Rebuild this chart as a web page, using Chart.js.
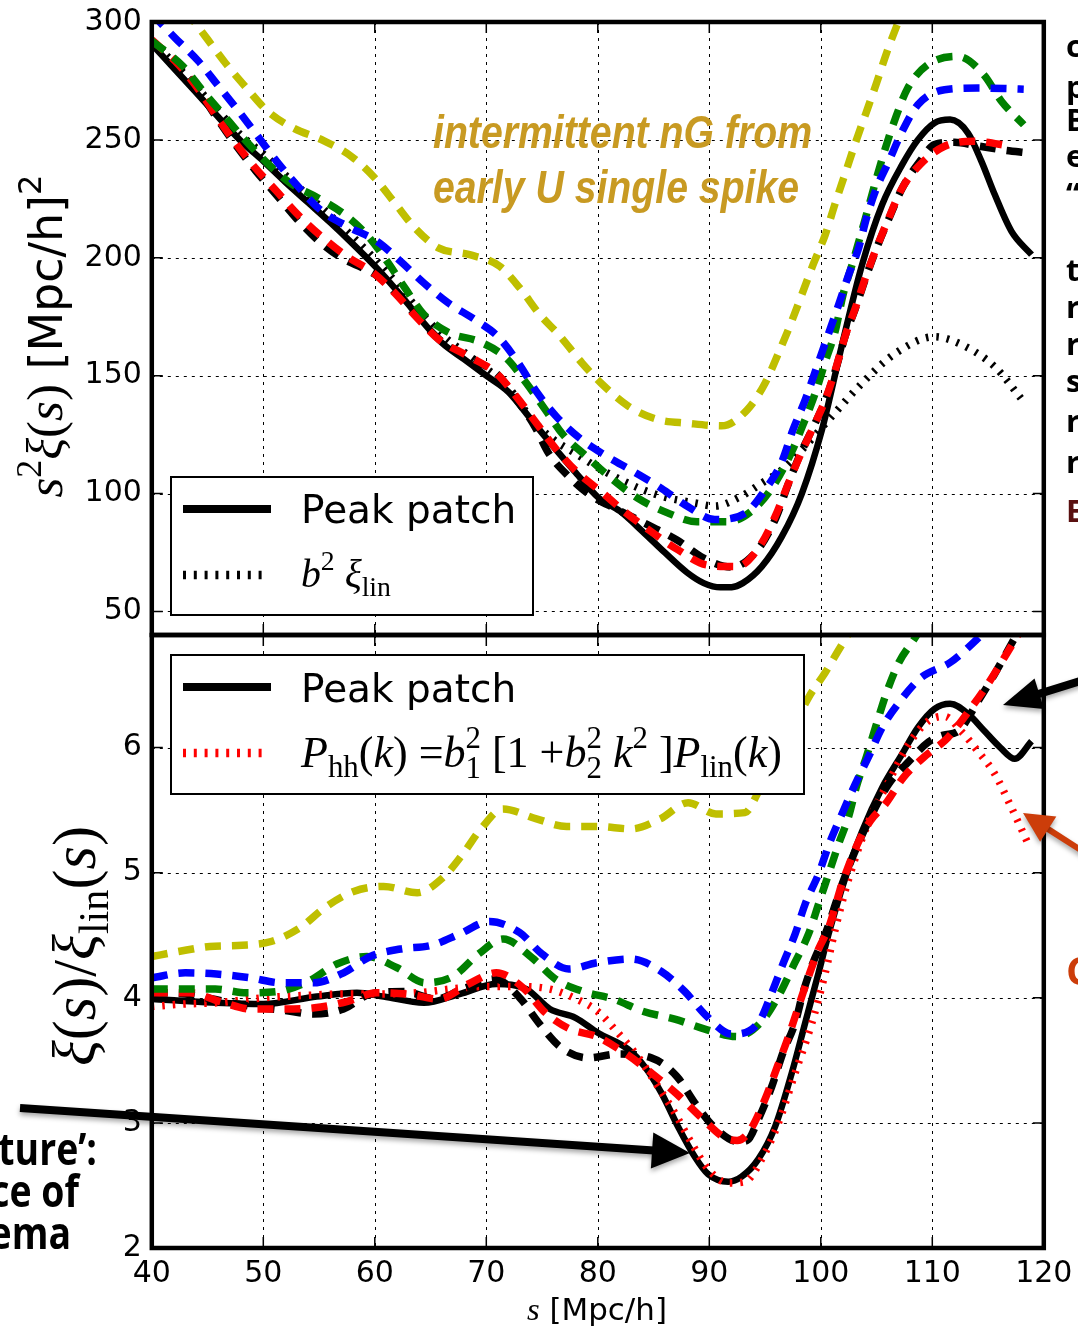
<!DOCTYPE html>
<html>
<head>
<meta charset="utf-8">
<script src="https://cdn.jsdelivr.net/npm/chart.js@4.4.1/dist/chart.umd.min.js"></script>
<style>
  html, body { margin: 0; padding: 0; background: #fff; }
  #wrap { position: relative; width: 1078px; height: 1328px; overflow: hidden; }
  canvas { position: absolute; left: 0; }
  #top { top: 0; }
  #bot { top: 620px; }
</style>
</head>
<body>
<div id="wrap">
  <canvas id="top" width="1078" height="660"></canvas>
  <canvas id="bot" width="1078" height="708"></canvas>
</div>
<script>
// ---------- top panel: s^2 xi(s) [Mpc/h]^2 ----------
const topPeakS = [40, 42, 44, 46, 48, 50, 52, 54, 56, 58, 60, 62, 64, 66, 68, 70, 72, 74, 76, 78, 80, 82, 84, 86, 88, 89.5, 91, 92, 93, 94.7, 96.5, 98.3, 100.1, 101.9, 103.7, 105.5, 107.3, 108.7, 110.2, 111.6, 113.2, 114.4, 115.6, 117.1, 118.9];
const topPeakV = [290.5, 280.3, 270, 259.5, 249.5, 241, 232, 223.5, 215, 206, 196.5, 186, 174.5, 164, 157, 150, 143, 131.5, 120, 109, 98.5, 92.5, 84, 75, 66.5, 62, 60.2, 60.3, 62, 69, 81.7, 100, 127, 163, 197, 222.5, 239.5, 250, 257.2, 258.6, 252.9, 241, 226.8, 211.2, 201.3];

const topLinS = [40, 42, 44, 46, 48, 50, 52, 54, 56, 58, 60, 62, 64, 66, 68, 70, 72, 74, 76, 78, 80, 82, 84, 86, 88.7, 90.5, 92.8, 94.7, 96.5, 98.3, 100.7, 103.7, 106.7, 110.2, 112.7, 115.6, 118.3];
const topLinV = [292, 282.5, 272.5, 262, 252, 244, 235, 226.5, 218, 209, 199.5, 189, 177.5, 167.5, 160, 153, 145, 132, 123, 117, 111, 106, 101.7, 98.5, 96, 94.7, 98.7, 104.4, 110, 118.5, 131.2, 146.8, 159.5, 166.5, 163, 153.8, 138.3];

const topBlackS = [40, 42.4, 44.2, 45.8, 47.5, 49.3, 51.2, 53, 55, 57, 59, 60, 62, 64, 66, 68.5, 71, 72.7, 74.4, 75.6, 77.4, 79.3, 81.8, 84.5, 87.1, 89.5, 92, 94.4, 96, 97, 98, 99.2, 100.4, 101.3, 102.2, 103.1, 104.1, 105, 106.1, 107.3, 108.9, 110.2, 112, 114, 116.2, 118.7];
const topBlackV = [292, 281.5, 271, 259.5, 248, 237, 226.5, 216.5, 207, 200, 195.5, 193, 184.5, 174, 164.5, 157.5, 150.5, 140, 128, 117, 107.2, 99.4, 93.1, 86.7, 80.3, 72.6, 68.8, 76.5, 90, 103, 115, 127, 139.5, 152, 167, 178.5, 192.5, 204, 216.5, 229.5, 241, 248, 249, 247.5, 245.8, 244.4];

const topRedS = [40, 42.4, 44.2, 45.8, 47.5, 49.3, 51.2, 53.1, 55.2, 57.5, 59.9, 61.8, 63.8, 65.8, 68.5, 70.9, 72.7, 74.4, 76.2, 78.1, 80.3, 82.4, 84.8, 87.2, 89.8, 92.5, 94.4, 95.9, 97.1, 98.1, 99.2, 100.4, 101.3, 102.2, 103.1, 104.1, 105, 106.1, 107.3, 108.9, 111.1, 113.8, 117.1];
const topRedV = [292.5, 281.9, 271.3, 260, 248.7, 238, 228.2, 218.3, 209.1, 200.6, 193.5, 185, 174.5, 165.1, 158, 151, 141.1, 130.5, 119.2, 109.3, 100.8, 92.3, 83.8, 76.1, 69.7, 69, 76.8, 90.2, 104.4, 115.7, 127, 139.7, 152.4, 167, 178.7, 192.8, 204.2, 216.9, 229.6, 239.5, 247.3, 249.4, 247.3];

const topGreenS = [40, 42.8, 44.6, 46.4, 48.2, 50.2, 52.4, 54.9, 57.3, 59.4, 61.2, 62.7, 64.4, 66.7, 69.4, 71.8, 73.6, 75.3, 76.9, 79, 81.2, 83.6, 86.2, 88.9, 91.7, 94.1, 95.9, 97.4, 98.4, 99.5, 100.4, 101.3, 102, 102.8, 103.5, 104.3, 105, 105.8, 106.7, 107.8, 109.6, 112.3, 114.6, 116.2, 118.2];
const topGreenV = [292, 281.2, 270.6, 260.7, 250.8, 240.9, 231.7, 225.4, 218.3, 209.1, 197.8, 187.2, 175.9, 168.1, 164.4, 157.4, 146.8, 135.5, 124.9, 115.7, 106.5, 98, 91.9, 88, 88, 93.8, 104.4, 117.8, 129.1, 142.5, 155.9, 169, 184.4, 197, 208.4, 221.8, 233.8, 246.6, 259.3, 272, 281.9, 285.4, 277.7, 266.4, 256.4];

const topBlueS = [40, 42.1, 44.2, 46, 47.8, 49.4, 51.2, 53.1, 55.1, 57.5, 60.2, 62.3, 64.4, 66.6, 69, 71.1, 73, 74.5, 76.3, 78.4, 80.6, 83.2, 85.7, 88.1, 90.5, 93.2, 95, 96.5, 97.5, 98.6, 99.6, 100.6, 101.6, 102.5, 103.4, 104.1, 105, 106.1, 107.3, 108.7, 111.1, 114.1, 117, 118.2];
const topBlueV = [303.5, 293.2, 283.3, 272.7, 262.1, 252.2, 240.9, 230.3, 220.4, 213.4, 207, 198.5, 189.3, 180.8, 173.7, 166.3, 154.5, 143.2, 132.6, 123.4, 116.4, 109.3, 102.2, 94.4, 89, 91.6, 101.5, 113.5, 127, 139.7, 153.1, 166.6, 180.1, 192.8, 204.2, 216.9, 229.6, 240.9, 253.6, 264.9, 271.3, 272, 271.7, 271.5];

const topYellowS = [40, 43, 44.8, 46.6, 48.5, 50.4, 52.7, 55.4, 57.9, 60, 61.8, 63.6, 65.7, 68.5, 71.2, 73, 74.8, 76.5, 78.6, 80.3, 82.7, 85.3, 88.1, 91.1, 93.4, 95, 96.2, 97.3, 98.3, 99.3, 100.4, 101.3, 102.2, 103.1, 104, 105, 105.9, 106.8, 108.5];
const topYellowV = [323, 305, 293.9, 282.6, 272, 262.1, 255, 249.7, 243, 233.8, 223.2, 212.6, 204.2, 201.3, 196.4, 187.2, 175.9, 167.4, 155.3, 146.8, 137.2, 131.5, 129.8, 128.7, 135.5, 146.8, 159.5, 172, 184.4, 197, 209.8, 223.2, 235.9, 248.7, 260.7, 274.1, 286.9, 298.2, 318];

// ---------- bottom panel: xi(s) / xi_lin(s) ----------
const botPeakS = [40, 42, 45.8, 50, 54.8, 58.4, 60.8, 64.4, 67.6, 70.9, 73.6, 75.7, 78, 80, 82.7, 84.2, 85.7, 87.2, 88.7, 89.9, 91.7, 92.9, 94.4, 95.9, 97.4, 98.6, 99.8, 100.7, 102.2, 103.7, 105.5, 107.3, 108.7, 110.2, 111.6, 113.2, 114.7, 116.1, 117.4, 118.9];
const botPeakV = [3.99, 3.98, 3.96, 3.95, 4.01, 4.04, 4.01, 3.96, 4.03, 4.11, 4.07, 3.91, 3.84, 3.72, 3.59, 3.45, 3.24, 2.97, 2.73, 2.59, 2.53, 2.57, 2.71, 2.97, 3.4, 3.8, 4.2, 4.51, 4.96, 5.33, 5.68, 5.95, 6.16, 6.31, 6.35, 6.27, 6.13, 6, 5.91, 6.05];

const botModelS = [40, 42.8, 45.8, 50, 54, 57, 60, 63.8, 66.8, 69.7, 72.7, 75.7, 78.1, 80, 81.8, 83.6, 85.4, 86.9, 88.4, 89.9, 91.7, 93.2, 94.7, 96.2, 97.7, 99.2, 100.4, 101.3, 102.5, 104.3, 106.1, 107.9, 109.6, 111.1, 112.6, 114.1, 115.6, 117.1, 118.6];
const botModelV = [3.93, 3.95, 3.96, 4.0, 4.02, 4.03, 4.03, 4.04, 4.07, 4.09, 4.09, 4.07, 3.99, 3.89, 3.72, 3.53, 3.29, 3.08, 2.84, 2.63, 2.52, 2.53, 2.71, 3.0, 3.4, 3.8, 4.2, 4.55, 4.95, 5.41, 5.73, 6.03, 6.21, 6.25, 6.13, 5.97, 5.79, 5.52, 5.23];

const botBlackS = [40, 43, 46, 49, 51.8, 54.5, 57.2, 59.6, 62.6, 65.5, 67.9, 70.8, 73, 74.7, 76.6, 79.1, 81.8, 84.8, 87.1, 88.7, 90.4, 92.6, 93.4, 94.4, 95.6, 96.6, 97.7, 98.4, 99.3, 100.4, 102, 103.3, 104.6, 106.1, 107.9, 109.6, 111, 112.3, 114.1, 115.6, 117.1, 118.5];
const botBlackV = [4.04, 4.03, 3.98, 3.93, 3.9, 3.87, 3.91, 4.03, 4.05, 3.99, 4.07, 4.15, 4.0, 3.8, 3.61, 3.52, 3.55, 3.52, 3.37, 3.16, 2.97, 2.85, 2.86, 3.03, 3.29, 3.56, 3.8, 4.04, 4.28, 4.51, 4.93, 5.22, 5.47, 5.71, 5.89, 6.04, 6.1, 6.13, 6.37, 6.59, 6.83, 7.05];

const botRedS = [40, 43.4, 46.1, 49, 51.8, 54.6, 57.5, 60.2, 62.9, 65.7, 68.4, 70.9, 73.3, 75.3, 77.5, 79.9, 82.4, 84.8, 87.1, 89.2, 91.4, 92.5, 93.5, 95, 96.1, 97.1, 98, 98.9, 99.8, 100.7, 101.9, 103.4, 104.5, 105.8, 107.4, 109.2, 111.4, 113.5, 115, 116.8, 118];
const botRedV = [4.04, 4.04, 3.97, 3.91, 3.91, 3.92, 3.97, 4.04, 4.03, 3.99, 4.11, 4.2, 4.08, 3.88, 3.75, 3.69, 3.56, 3.4, 3.23, 3.05, 2.88, 2.86, 2.92, 3.19, 3.45, 3.69, 3.93, 4.17, 4.39, 4.56, 4.91, 5.25, 5.42, 5.55, 5.76, 5.92, 6.08, 6.32, 6.51, 6.77, 6.95];

const botGreenS = [40, 42.8, 45.7, 48.5, 51.3, 54, 56.6, 59.3, 62, 64.5, 67, 69.3, 71.5, 74.1, 76.2, 78.7, 81.4, 84.1, 86.9, 89.6, 92.5, 94.7, 96.3, 97.5, 98.9, 99.8, 100.7, 101.6, 102.5, 103.2, 104.1, 105, 105.9, 107, 108.4, 110];
const botGreenV = [4.07, 4.07, 4.07, 4.04, 4.05, 4.13, 4.27, 4.33, 4.24, 4.12, 4.17, 4.35, 4.47, 4.32, 4.15, 4.05, 3.99, 3.89, 3.83, 3.75, 3.69, 3.81, 4.03, 4.25, 4.51, 4.75, 4.99, 5.23, 5.45, 5.69, 5.93, 6.19, 6.44, 6.68, 6.87, 7.1];

const botBlueS = [40, 43, 45.8, 48.8, 51.6, 54.5, 57.2, 59.6, 62.3, 65.1, 67.6, 70.3, 73, 75, 77.4, 79.9, 83, 85.7, 87.8, 89.8, 92, 94.4, 95.6, 96.6, 97.7, 98.6, 99.8, 100.8, 101.9, 103.1, 104.3, 105.5, 107.1, 109, 111.6, 113.7, 115.5];
const botBlueV = [4.16, 4.2, 4.19, 4.16, 4.12, 4.12, 4.2, 4.33, 4.39, 4.42, 4.51, 4.61, 4.52, 4.35, 4.23, 4.28, 4.31, 4.21, 4.05, 3.85, 3.71, 3.8, 4.04, 4.27, 4.51, 4.75, 4.99, 5.24, 5.47, 5.71, 5.93, 6.16, 6.37, 6.56, 6.68, 6.84, 7.0];

const botYellowS = [40, 42.4, 45.2, 48.1, 50.7, 53.3, 55.5, 58.1, 60.8, 63.8, 66.1, 67.9, 69.6, 71.5, 74.5, 77.2, 80, 83, 85.6, 88.1, 90.6, 93.2, 94.5, 96, 97.5, 98.9, 100.4, 101.6, 103];
const botYellowV = [4.33, 4.37, 4.41, 4.42, 4.45, 4.56, 4.72, 4.85, 4.89, 4.84, 4.96, 5.15, 5.36, 5.51, 5.43, 5.37, 5.37, 5.35, 5.43, 5.56, 5.47, 5.48, 5.66, 5.88, 6.15, 6.4, 6.6, 6.78, 6.98];

// ticks
const xTicks = [40, 50, 60, 70, 80, 90, 100, 110, 120];
const topYTicks = [50, 100, 150, 200, 250, 300];
const botYTicks = [2, 3, 4, 5, 6];

// colours / line styles
const BLUE = '#0000ff', GREEN = '#008000', RED = '#ff0000', YELLOW = '#bfbf00', BLACK = '#000000';
const DASH = [16, 11];
const DOT = [2.5, 8];
const LW = 7.5;

const SERIF = '"Liberation Serif", "DejaVu Serif", serif';
const SANS = '"DejaVu Sans", sans-serif';

function line(label, s, v, color, width, dash, order) {
  return {
    label: label,
    data: s.map((x, i) => ({x: x, y: v[i]})),
    borderColor: color,
    borderWidth: width,
    borderDash: dash,
    borderCapStyle: 'butt',
    borderJoinStyle: 'round',
    pointRadius: 0,
    fill: false,
    cubicInterpolationMode: 'monotone',
    clip: 0,
    order: order
  };
}

// ---- little helpers for the math-ish text ----
function pFont(p, size) {
  const s = (p.d ? 0.7 : 1) * size * (p.k || 1);
  if (p.f === 'i') return 'italic ' + s + 'px ' + SERIF;
  if (p.f === 's') return s + 'px ' + SANS;
  return s + 'px ' + SERIF;
}
function pWidth(ctx, p, size) {
  if (p.sub !== undefined) {
    ctx.font = (0.7 * size) + 'px ' + SERIF;
    return Math.max(ctx.measureText(p.sub).width, ctx.measureText(p.sup).width);
  }
  ctx.font = pFont(p, size);
  return ctx.measureText(p.t).width;
}
function drawRich(ctx, parts, x, y, width, align) {
  const w40 = parts.reduce((w, p) => w + pWidth(ctx, p, 40), 0);
  const size = 40 * width / w40;
  let cx = align === 'center' ? x - width / 2 : x;
  ctx.textAlign = 'left';
  ctx.textBaseline = 'alphabetic';
  ctx.fillStyle = '#000';
  for (const p of parts) {
    const w = pWidth(ctx, p, size);
    if (p.sub !== undefined) {
      ctx.font = (0.7 * size) + 'px ' + SERIF;
      ctx.fillText(p.sub, cx, y + 0.26 * size);
      ctx.fillText(p.sup, cx, y - 0.42 * size);
    } else {
      ctx.font = pFont(p, size);
      const dy = p.d === 'sub' ? 0.22 * size : (p.d === 'sup' ? -0.42 * size : 0);
      ctx.fillText(p.t, cx, y + dy);
    }
    cx += w;
  }
}
function drawRotated(ctx, parts, x, y, width) {
  ctx.save();
  ctx.translate(x, y);
  ctx.rotate(-Math.PI / 2);
  drawRich(ctx, parts, 0, 0, width, 'center');
  ctx.restore();
}

const topYTitle = [{t: 's', f: 'i'}, {t: '2', d: 'sup'}, {t: 'ξ', f: 'i'}, {t: '(', f: 'r'}, {t: 's', f: 'i'}, {t: ')', f: 'r'},
  {t: ' [Mpc/h]', f: 's', k: 0.9}, {t: '2', f: 's', d: 'sup', k: 0.9}];
const botYTitle = [{t: 'ξ', f: 'i'}, {t: '(', f: 'r'}, {t: 's', f: 'i'}, {t: ')', f: 'r'}, {t: '/', f: 'r'},
  {t: 'ξ', f: 'i'}, {t: 'lin', d: 'sub'}, {t: '(', f: 'r'}, {t: 's', f: 'i'}, {t: ')', f: 'r'}];
const xTitle = [{t: 's', f: 'i'}, {t: ' [Mpc/h]', f: 's', k: 0.95}];
const linLabel = [{t: 'b', f: 'i'}, {t: '2', d: 'sup'}, {t: ' ξ', f: 'i'}, {t: 'lin', d: 'sub'}];
const modelLabel = [{t: 'P', f: 'i'}, {t: 'hh', d: 'sub'}, {t: '(', f: 'r'}, {t: 'k', f: 'i'}, {t: ')', f: 'r'},
  {t: ' =', f: 'r'}, {t: 'b', f: 'i'}, {sub: '1', sup: '2'}, {t: ' [1 +', f: 'r'}, {t: 'b', f: 'i'}, {sub: '2', sup: '2'},
  {t: ' k', f: 'i'}, {t: '2', d: 'sup'}, {t: ' ]', f: 'r'}, {t: 'P', f: 'i'}, {t: 'lin', d: 'sub'},
  {t: '(', f: 'r'}, {t: 'k', f: 'i'}, {t: ')', f: 'r'}];

function legendBox(ctx, x0, y0, x1, y1) {
  ctx.save();
  ctx.setLineDash([]);
  ctx.fillStyle = '#fff';
  ctx.fillRect(x0, y0, x1 - x0, y1 - y0);
  ctx.strokeStyle = '#000';
  ctx.lineWidth = 2;
  ctx.strokeRect(x0, y0, x1 - x0, y1 - y0);
  ctx.restore();
}
function sample(ctx, xa, xb, y, color, width, dash) {
  ctx.save();
  ctx.strokeStyle = color;
  ctx.lineWidth = width;
  ctx.lineCap = 'butt';
  ctx.setLineDash(dash);
  ctx.beginPath();
  ctx.moveTo(xa, y);
  ctx.lineTo(xb, y);
  ctx.stroke();
  ctx.restore();
}
function arrow(ctx, x0, y0, x1, y1, color, lw, headLen, headHalf) {
  const a = Math.atan2(y1 - y0, x1 - x0);
  const bx = x1 - headLen * Math.cos(a), by = y1 - headLen * Math.sin(a);
  ctx.save();
  ctx.shadowColor = 'rgba(0,0,0,0.35)';
  ctx.shadowBlur = 5;
  ctx.shadowOffsetY = 3;
  ctx.setLineDash([]);
  ctx.strokeStyle = color;
  ctx.fillStyle = color;
  ctx.lineWidth = lw;
  ctx.beginPath();
  ctx.moveTo(x0, y0);
  ctx.lineTo(bx + 2 * Math.cos(a), by + 2 * Math.sin(a));
  ctx.stroke();
  ctx.beginPath();
  ctx.moveTo(x1, y1);
  ctx.lineTo(bx + headHalf * Math.sin(a), by - headHalf * Math.cos(a));
  ctx.lineTo(bx - headHalf * Math.sin(a), by + headHalf * Math.cos(a));
  ctx.closePath();
  ctx.fill();
  ctx.restore();
}

// grid, frame, inward ticks, legend and slide decorations for one panel
function panelPlugin(offsetY, legendFn, decorFn) {
  return {
    id: 'panel',
    beforeDatasetsDraw(chart) {
      const {ctx, chartArea: a, scales: {x, y}} = chart;
      ctx.save();
      ctx.strokeStyle = '#000';
      ctx.lineWidth = 1;
      ctx.setLineDash([3, 5]);
      x.ticks.forEach(t => {
        if (t.value <= x.min || t.value >= x.max) return;
        const px = Math.round(x.getPixelForValue(t.value)) + 0.5;
        ctx.beginPath(); ctx.moveTo(px, a.top); ctx.lineTo(px, a.bottom); ctx.stroke();
      });
      y.ticks.forEach(t => {
        if (t.value <= y.min || t.value >= y.max) return;
        const py = Math.round(y.getPixelForValue(t.value)) + 0.5;
        ctx.beginPath(); ctx.moveTo(a.left, py); ctx.lineTo(a.right, py); ctx.stroke();
      });
      ctx.restore();
    },
    afterDatasetsDraw(chart) {
      const {ctx, chartArea: a, scales: {x, y}} = chart;
      ctx.save();
      ctx.setLineDash([]);
      ctx.strokeStyle = '#000';
      ctx.lineWidth = 1.5;
      const tl = 11;
      x.ticks.forEach(t => {
        const px = x.getPixelForValue(t.value);
        ctx.beginPath();
        ctx.moveTo(px, a.bottom); ctx.lineTo(px, a.bottom - tl);
        ctx.moveTo(px, a.top); ctx.lineTo(px, a.top + tl);
        ctx.stroke();
      });
      y.ticks.forEach(t => {
        const py = y.getPixelForValue(t.value);
        ctx.beginPath();
        ctx.moveTo(a.left, py); ctx.lineTo(a.left + tl, py);
        ctx.moveTo(a.right, py); ctx.lineTo(a.right - tl, py);
        ctx.stroke();
      });
      ctx.lineWidth = 4.5;
      ctx.strokeRect(a.left, a.top, a.right - a.left, a.bottom - a.top);
      ctx.restore();
      ctx.save();
      ctx.translate(0, -offsetY);
      legendFn(ctx);
      ctx.restore();
    },
    afterDraw(chart) {
      const ctx = chart.ctx;
      ctx.save();
      ctx.translate(0, -offsetY);
      decorFn(ctx);
      ctx.restore();
    }
  };
}

function topLegend(ctx) {
  legendBox(ctx, 171, 477, 533, 615);
  sample(ctx, 183, 271, 509, BLACK, 8, []);
  ctx.fillStyle = '#000';
  ctx.font = '39px ' + SANS;
  ctx.textAlign = 'left';
  ctx.textBaseline = 'alphabetic';
  ctx.fillText('Peak patch', 301, 523);
  sample(ctx, 183, 266, 575, BLACK, 8.5, [3, 7.8]);
  drawRich(ctx, linLabel, 301, 587, 90, 'left');
}

function topDecor(ctx) {
  // y title
  drawRotated(ctx, topYTitle, 62, 336, 323);
  // gold annotation
  ctx.save();
  ctx.fillStyle = '#c89a22';
  ctx.font = 'bold italic 46px "Liberation Sans", Arial, sans-serif';
  ctx.textBaseline = 'alphabetic';
  ctx.textAlign = 'left';
  const l1 = 'intermittent nG from', l2 = 'early U single spike';
  const sx = 379 / ctx.measureText(l1).width;
  ctx.save(); ctx.translate(433, 148); ctx.scale(sx, 1); ctx.fillText(l1, 0, 0); ctx.restore();
  ctx.save(); ctx.translate(433, 203); ctx.scale(sx, 1); ctx.fillText(l2, 0, 0); ctx.restore();
  ctx.restore();
  // slide text cut by the right edge
  ctx.save();
  ctx.font = 'bold 31px "Open Sans", "DejaVu Sans", sans-serif';
  ctx.textAlign = 'left';
  ctx.textBaseline = 'alphabetic';
  ctx.fillStyle = '#000';
  const letters = [['c', 57], ['p', 98], ['B', 131], ['e', 167], ['“', 205], ['t', 281], ['r', 318], ['r', 355], ['s', 392], ['r', 432], ['r', 473]];
  letters.forEach(l => ctx.fillText(l[0], 1066, l[1]));
  ctx.fillStyle = '#5a1010';
  ctx.fillText('E', 1066, 522);
  ctx.restore();
}

function botLegend(ctx) {
  legendBox(ctx, 171, 655, 804, 794);
  sample(ctx, 183, 271, 687, BLACK, 8, []);
  ctx.fillStyle = '#000';
  ctx.font = '39px ' + SANS;
  ctx.textAlign = 'left';
  ctx.textBaseline = 'alphabetic';
  ctx.fillText('Peak patch', 301, 702);
  sample(ctx, 183, 266, 753, RED, 8.5, [3, 7.8]);
  drawRich(ctx, modelLabel, 301, 767, 481, 'left');
}

function cutText(ctx, text, right, base) {
  // slide text running off the left edge, narrow bold face
  ctx.save();
  ctx.translate(right, base);
  ctx.scale(0.85, 1);
  ctx.fillText(text, 0, 0);
  ctx.restore();
}

function botDecor(ctx) {
  drawRotated(ctx, botYTitle, 95, 946, 240);
  drawRich(ctx, xTitle, 597, 1320, 140, 'center');
  // arrows
  arrow(ctx, 20, 1108, 690, 1153, '#000', 8, 38, 18);
  arrow(ctx, 1090, 678, 1003, 705, '#000', 8, 38, 16);
  arrow(ctx, 1090, 856, 1023, 813, '#cc3d0a', 6, 30, 15);
  // slide text cut by the edges
  ctx.save();
  ctx.font = 'bold 44px "Open Sans", "DejaVu Sans", sans-serif';
  ctx.textBaseline = 'alphabetic';
  ctx.textAlign = 'right';
  ctx.fillStyle = '#000';
  cutText(ctx, 'ture’:', 97, 1165);
  cutText(ctx, 'ce of', 79, 1207);
  cutText(ctx, 'ema', 71, 1249);
  ctx.textAlign = 'left';
  ctx.fillStyle = '#cc3d0a';
  ctx.font = 'bold 40px "Open Sans", "DejaVu Sans", sans-serif';
  ctx.fillText('C', 1066, 985);
  ctx.restore();
}

function setTicks(vals) {
  return function (scale) { scale.ticks = vals.map(v => ({value: v})); };
}
function fixY(s) {
  s.width = 151.8;
  s.paddingTop = 0; s.paddingBottom = 0;
}
function fixX(h) {
  return function (s) {
    s.height = h;
    s.paddingLeft = 0; s.paddingRight = 0;
  };
}

const tickFont = {family: 'DejaVu Sans', size: 30};

// ---------- top chart ----------
new Chart(document.getElementById('top'), {
  type: 'line',
  data: {
    datasets: [
      line('Peak patch', topPeakS, topPeakV, BLACK, 6.5, [], 7),
      line('b² ξlin', topLinS, topLinV, BLACK, LW, DOT, 6),
      line('black', topBlackS, topBlackV, BLACK, LW, DASH, 5),
      line('red', topRedS, topRedV, RED, LW, DASH, 4),
      line('green', topGreenS, topGreenV, GREEN, LW, DASH, 3),
      line('blue', topBlueS, topBlueV, BLUE, LW, DASH, 2),
      line('yellow', topYellowS, topYellowV, YELLOW, LW, DASH, 1)
    ]
  },
  options: {
    responsive: false,
    animation: false,
    events: [],
    layout: {padding: {left: 0, right: 34.2, top: 22, bottom: 0}},
    plugins: {legend: {display: false}, tooltip: {enabled: false}},
    scales: {
      x: {
        type: 'linear', min: 40, max: 120,
        afterBuildTicks: setTicks(xTicks),
        ticks: {display: false},
        grid: {display: false, drawTicks: false},
        border: {display: false},
        afterFit: fixX(25)
      },
      y: {
        type: 'linear', min: 40, max: 300,
        afterBuildTicks: setTicks(topYTicks),
        ticks: {font: tickFont, color: '#000', padding: 10, autoSkip: false},
        grid: {display: false, drawTicks: false},
        border: {display: false},
        afterFit: fixY
      }
    }
  },
  plugins: [panelPlugin(0, topLegend, topDecor)]
});

// ---------- bottom chart ----------
new Chart(document.getElementById('bot'), {
  type: 'line',
  data: {
    datasets: [
      line('Peak patch', botPeakS, botPeakV, BLACK, 6.5, [], 7),
      line('Phh model', botModelS, botModelV, RED, LW, DOT, 6),
      line('black', botBlackS, botBlackV, BLACK, LW, DASH, 5),
      line('red', botRedS, botRedV, RED, LW, DASH, 4),
      line('green', botGreenS, botGreenV, GREEN, LW, DASH, 3),
      line('blue', botBlueS, botBlueV, BLUE, LW, DASH, 2),
      line('yellow', botYellowS, botYellowV, YELLOW, LW, DASH, 1)
    ]
  },
  options: {
    responsive: false,
    animation: false,
    events: [],
    layout: {padding: {left: 0, right: 34.2, top: 15, bottom: 0}},
    plugins: {legend: {display: false}, tooltip: {enabled: false}},
    scales: {
      x: {
        type: 'linear', min: 40, max: 120,
        afterBuildTicks: setTicks(xTicks),
        ticks: {font: tickFont, color: '#000', padding: 8, maxRotation: 0, autoSkip: false},
        grid: {display: false, drawTicks: false},
        border: {display: false},
        afterFit: fixX(80)
      },
      y: {
        type: 'linear', min: 2, max: 6.9,
        afterBuildTicks: setTicks(botYTicks),
        ticks: {font: tickFont, color: '#000', padding: 10, autoSkip: false},
        grid: {display: false, drawTicks: false},
        border: {display: false},
        afterFit: fixY
      }
    }
  },
  plugins: [panelPlugin(620, botLegend, botDecor)]
});
</script>
</body>
</html>
